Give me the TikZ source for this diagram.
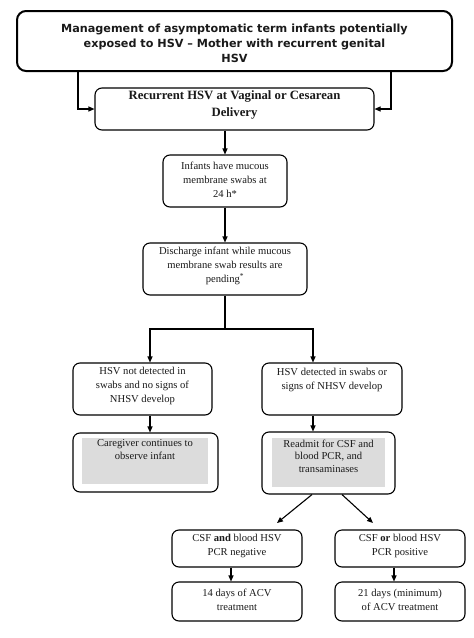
\documentclass[tikz,border=0pt]{standalone}
\usepackage{fontspec}
\setmainfont{Liberation Serif}
\newfontfamily\titlefont{DejaVu Sans}
\usetikzlibrary{arrows.meta,calc}
\definecolor{ink}{HTML}{1A1A1A}
\definecolor{shade}{HTML}{DCDCDC}
\begin{document}
\begin{tikzpicture}[x=1pt,y=-1pt,
 box/.style={draw=black, rounded corners=7pt, line width=1.1pt, inner sep=0pt},
 txt/.style={align=center, text=ink, font=\fontsize{10.6}{14}\selectfont, inner sep=0pt},
 arr/.style={-{Triangle[length=6pt,width=5pt]}, line width=1.1pt},
 ln/.style={line width=1.1pt},
 shadebox/.style={fill=shade, draw=none, inner sep=0pt}]
\useasboundingbox (0,0) rectangle (474,638);
\fill[white] (0,0) rectangle (474,638);
% title
\node[box, line width=2pt, rounded corners=9pt, minimum width=435pt, minimum height=60pt] (title) at (234.5,41) {};
\node[txt, font=\titlefont\bfseries\fontsize{11.2}{15}\selectfont] (titletext) at (234.5,43) {Management of asymptomatic term infants potentially\\exposed to HSV – Mother with recurrent genital\\HSV};
% box2
\node[box, minimum width=279pt, minimum height=42pt] (b2) at (234.5,109) {};
\node[txt, font=\bfseries\fontsize{12.7}{17}\selectfont] (b2t) at (234.5,105) {Recurrent HSV at Vaginal or Cesarean\\Delivery};
% box3
\node[box, minimum width=124pt, minimum height=52pt] (b3) at (225,181) {};
\node[txt] (b3t) at (225,180) {Infants have mucous\\membrane swabs at\\24 h*};
% box4
\node[box, minimum width=164pt, minimum height=52pt] (b4) at (225,269) {};
\node[txt] (b4t) at (225,266) {Discharge infant while mucous\\membrane swab results are\\pending\textsuperscript{*}};
% box5
\node[box, minimum width=139pt, minimum height=52pt] (b5) at (142.5,389) {};
\node[txt] (b5t) at (142.5,386) {HSV not detected in\\swabs and no signs of\\NHSV develop};
% box6
\node[box, minimum width=140pt, minimum height=52pt] (b6) at (332,389) {};
\node[txt] (b6t) at (332,380) {HSV detected in swabs or\\signs of NHSV develop};
% box7
\node[box, minimum width=145pt, minimum height=59pt] (b7) at (145.5,462.5) {};
\node[shadebox, minimum width=126pt, minimum height=46pt] (b7s) at (145,461) {};
\node[txt, font=\fontsize{10.6}{13}\selectfont] (b7t) at (145,450) {Caregiver continues to\\observe infant};
% box8
\node[box, minimum width=133pt, minimum height=62pt] (b8) at (328.5,463) {};
\node[shadebox, minimum width=113pt, minimum height=49pt] (b8s) at (328.5,462.5) {};
\node[txt, font=\fontsize{10.6}{12.5}\selectfont] (b8t) at (328.5,456) {Readmit for CSF and\\blood PCR, and\\transaminases};
% box9-12
\node[box, minimum width=130pt, minimum height=37pt] (b9) at (237,548.5) {};
\node[txt] (b9t) at (237,546) {CSF \textbf{and} blood HSV\\PCR negative};
\node[box, minimum width=130pt, minimum height=37pt] (b10) at (400,548.5) {};
\node[txt] (b10t) at (400,546) {CSF \textbf{or} blood HSV\\PCR positive};
\node[box, minimum width=130pt, minimum height=39pt] (b11) at (237,601.5) {};
\node[txt] (b11t) at (237,600) {14 days of ACV\\treatment};
\node[box, minimum width=130pt, minimum height=39pt] (b12) at (400,601.5) {};
\node[txt] (b12t) at (400,600) {21 days (minimum)\\of ACV treatment};
% connectors
\coordinate (tl) at (78,0);
\coordinate (tr) at (391,0);
\draw[arr] (tl |- title.south) |- (b2.west);
\draw[arr] (tr |- title.south) |- (b2.east);
\draw[arr] (b3.north |- b2.south) -- (b3.north);
\draw[arr] (b3.south) -- (b4.north);
\coordinate (split) at (225,329);
\coordinate (lx) at (150,0);
\coordinate (rx) at (313,0);
\draw[ln] (b4.south) -- (split);
\draw[arr] (split) -| (lx |- b5.north);
\draw[arr] (split) -| (rx |- b6.north);
\draw[arr] (lx |- b5.south) -- (lx |- b7.north);
\draw[arr] (rx |- b6.south) -- (rx |- b8.north);
\coordinate (dl0) at (312,0);
\coordinate (dr0) at (342,0);
\coordinate (dl1) at (277,523);
\coordinate (dr1) at (373,523);
\draw[arr] (dl0 |- b8.south) -- (dl1);
\draw[arr] (dr0 |- b8.south) -- (dr1);
\coordinate (cl) at (231,0);
\coordinate (cr) at (394,0);
\draw[arr] (cl |- b9.south) -- (cl |- b11.north);
\draw[arr] (cr |- b10.south) -- (cr |- b12.north);
\end{tikzpicture}
\end{document}
